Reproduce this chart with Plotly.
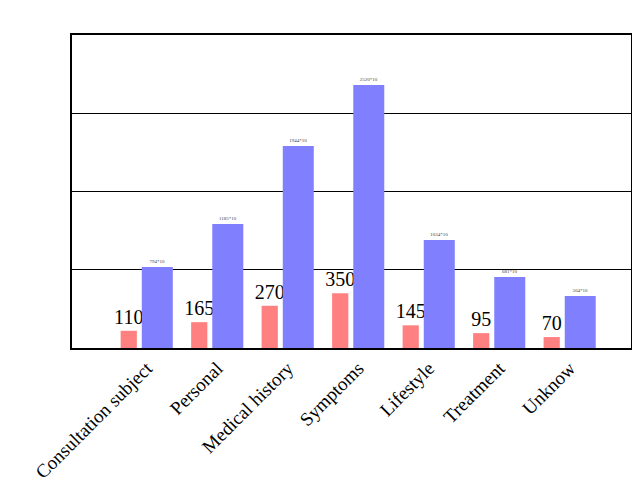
import plotly.graph_objects as go

categories = ["Consultation subject", "Personal", "Medical history", "Symptoms",
              "Lifestyle", "Treatment", "Unknow"]
red_values = [110, 165, 270, 350, 145, 95, 70]
blue_heights = [517, 792, 1290, 1680, 690, 453, 332]
blue_labels = ["794*10", "1185*10", "1944*10", "2520*10", "1034*10", "681*10", "504*10"]

fig = go.Figure()
fig.add_trace(go.Bar(
    x=categories, y=red_values, text=[str(v) for v in red_values],
    textposition="outside", constraintext="none", cliponaxis=False,
    textfont=dict(family="Liberation Serif", size=20, color="black"),
    marker=dict(color="#ff8080", line=dict(width=0)),
    width=0.23, offset=-0.37,
))
fig.add_trace(go.Bar(
    x=categories, y=blue_heights, text=blue_labels,
    textposition="outside", constraintext="none", cliponaxis=False,
    textfont=dict(family="Liberation Serif", size=5, color="#444"),
    marker=dict(color="#8080ff", line=dict(width=0)),
    width=0.44, offset=-0.07,
))

# page body has an 8px margin; keep the figure inside the window
fig.update_layout(
    width=624, height=471,
    margin=dict(l=64, r=1, t=27, b=131),
    plot_bgcolor="white", paper_bgcolor="white",
    showlegend=False, barmode="overlay",
    font=dict(family="Liberation Serif", color="black"),
)
fig.update_xaxes(
    range=[-1.06, 6.87], tickangle=-45, tickfont=dict(size=19),
    showline=True, linecolor="black", linewidth=1.5, mirror=True,
    ticks="", showgrid=False, automargin=False,
)
fig.update_yaxes(
    range=[0, 2000], tickvals=[500, 1000, 1500], showticklabels=False,
    showgrid=True, gridcolor="black", gridwidth=1.3, zeroline=False,
    showline=True, linecolor="black", linewidth=1.5, mirror=True, ticks="",
    automargin=False,
)

fig.write_html("out.html")
